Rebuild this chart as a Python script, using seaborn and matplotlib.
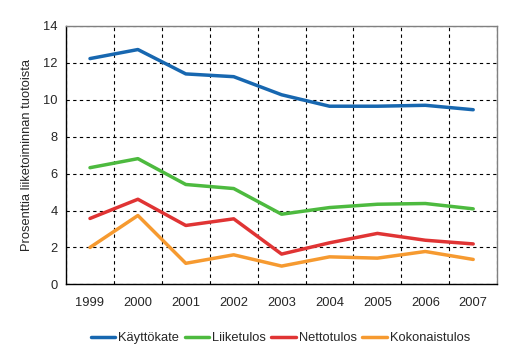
import matplotlib
matplotlib.use("Agg")
import matplotlib.pyplot as plt
import seaborn as sns
import pandas as pd
import numpy as np

years = ["1999", "2000", "2001", "2002", "2003", "2004", "2005", "2006", "2007"]
kayttokate = [12.23, 12.72, 11.40, 11.25, 10.27, 9.65, 9.65, 9.70, 9.46]
liiketulos = [6.32, 6.81, 5.41, 5.19, 3.80, 4.16, 4.34, 4.38, 4.09]
nettotulos = [3.57, 4.61, 3.19, 3.55, 1.64, 2.25, 2.76, 2.39, 2.19]
kokonaistulos = [2.00, 3.73, 1.14, 1.60, 0.99, 1.49, 1.42, 1.78, 1.35]
series_names = ["Käyttökate", "Liiketulos", "Nettotulos", "Kokonaistulos"]
colors = ["#1767b0", "#4dba3f", "#e03434", "#f69a30"]

sns.set_theme(style="white")
plt.rcParams['font.family'] = ['Liberation Sans', 'DejaVu Sans']

rows = []
for name, vals in zip(series_names, [kayttokate, liiketulos, nettotulos, kokonaistulos]):
    for i, v in enumerate(vals):
        rows.append({"pos": i, "year": years[i], "value": v, "series": name})
df = pd.DataFrame(rows)

fs = 9.3
fig = plt.figure(figsize=(5.12, 3.55), dpi=100)
ax = fig.add_axes([0.129, 0.199, 0.842, 0.728])
sns.lineplot(data=df, x="pos", y="value", hue="series", hue_order=series_names,
             palette=colors, linewidth=2.5, ax=ax, legend=True)

ax.set_xlim(-0.5, 8.5)
ax.set_ylim(0, 14)
ax.set_yticks(np.arange(0, 15, 2))
ax.set_yticklabels([str(v) for v in range(0, 15, 2)], fontsize=fs)
ax.set_xticks(range(9))
ax.set_xticklabels(years, fontsize=fs)
ax.set_xticks(np.arange(-0.5, 9, 1), minor=True)
ax.tick_params(axis="x", which="major", length=0, pad=9)
ax.tick_params(axis="x", which="minor", length=4, width=0.8, color="black", direction="out")
ax.tick_params(axis="y", which="major", length=4, width=0.8, color="black", direction="out", pad=2)
ax.grid(False)
ax.xaxis.grid(True, which="minor", linestyle=(0, (3, 3)), color="black", linewidth=0.8)
ax.yaxis.grid(True, which="major", linestyle=(0, (3, 3)), color="black", linewidth=0.8)
ax.set_xlabel("")
ax.set_ylabel("Prosenttia liiketoiminnan tuotoista", fontsize=fs, labelpad=7)
for s in ["left", "bottom"]:
    ax.spines[s].set_color("black")
    ax.spines[s].set_linewidth(1.0)
for s in ["right", "top"]:
    ax.spines[s].set_color("#808080")
    ax.spines[s].set_linewidth(1.0)

handles, labels = ax.get_legend_handles_labels()
ax.legend(handles, labels, loc="center", bbox_to_anchor=(0.497, -0.208), ncol=4,
          frameon=False, fontsize=fs, handlelength=1.9, handletextpad=0.2,
          columnspacing=0.45)

fig.savefig("out.png", dpi=100)
